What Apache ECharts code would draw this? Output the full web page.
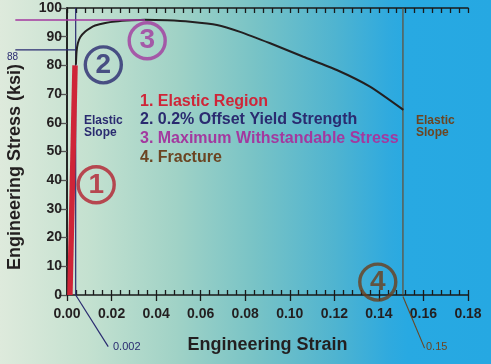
<!DOCTYPE html>
<html>
<head>
<meta charset="utf-8">
<script src="https://cdn.jsdelivr.net/npm/echarts@6/dist/echarts.min.js"></script>
<style>
html,body{margin:0;padding:0;width:491px;height:364px;overflow:hidden;}
body{background:linear-gradient(to right,
 rgb(222,234,220) 0%, rgb(196,225,208) 18%, rgb(160,210,198) 36%,
 rgb(120,195,198) 52%, rgb(80,180,208) 68%, rgb(48,170,222) 79%, rgb(40,169,226) 83%, rgb(38,168,226) 100%);}
#c{width:491px;height:364px;}
</style>
</head>
<body>
<div id="c"></div>
<script>
// ---- data ----
const curveStrain = [0.0040, 0.0043, 0.0049, 0.0060, 0.0082, 0.0104, 0.0126, 0.0172, 0.0217, 0.0291, 0.0351, 0.0450, 0.0553, 0.0673, 0.0777, 0.0912, 0.1061, 0.1211, 0.1360, 0.1510];
const curveStress = [80.2, 84.9, 87.8, 89.9, 91.8, 93.0, 93.9, 94.8, 95.3, 95.7, 95.9, 95.7, 95.2, 94.1, 91.7, 87.7, 83.0, 78.4, 72.6, 64.5];
const elasticStrain = [0.0013, 0.0036];
const elasticStress = [0, 80];
const offsetStrain = 0.0039;      // 0.2% offset line (drawn position)
const yieldStress = 85.4;          // 0.2% offset yield level
const maxStress = 95.8;            // maximum withstandable stress
const maxStrain = 0.035;
const fractureStrain = 0.1508;
const xTicks = [0, 0.18, 0.02];    // min, max, interval
const yTicks = [0, 100, 10];
const circleLabels = ['1', '2', '3', '4'];
const circleStrain = [0.0131, 0.0163, 0.0360, 0.1395];
const circleStress = [38.4, 80.2, 88.6, 4.5];
const legendLines = ['1. Elastic Region', '2. 0.2% Offset Yield Strength', '3. Maximum Withstandable Stress', '4. Fracture'];

const RED = '#cf2538', NAVY = '#2a2b70', PURPLE = '#a3399f', BROWN = '#6b4522', DARK = '#231f20';
const circleColors = ['#b3202f', NAVY, PURPLE, '#6b3f1c'];
const FF = '"Liberation Sans", Arial, Helvetica, sans-serif';

const zip = (a, b) => a.map((v, i) => [v, b[i]]);
const leftEdge = -0.0232;

const chart = echarts.init(document.getElementById('c'), null, {renderer: 'canvas'});
const lineS = (data, color, width, z) => ({
  type: 'line', data, symbol: 'none', clip: false, silent: true, z: z || 2,
  lineStyle: {color, width, cap: 'butt'}, animation: false, xAxisIndex: 0, yAxisIndex: 0
});

const option = {
  backgroundColor: 'transparent',
  animation: false,
  textStyle: {fontFamily: FF},
  grid: {left: 67, top: 8, right: 23, bottom: 69, containLabel: false},
  xAxis: [
    {
      type: 'value', position: 'bottom', min: xTicks[0], max: xTicks[1], interval: xTicks[2],
      axisLine: {lineStyle: {color: '#1a1a1a', width: 1.5}},
      axisTick: {length: 6, lineStyle: {color: '#1a1a1a', width: 1.3}},
      axisLabel: {formatter: v => v.toFixed(2), fontSize: 14, fontWeight: 'bold', color: DARK, margin: 12, fontFamily: FF},
      splitLine: {show: false},
      name: 'Engineering Strain', nameLocation: 'middle', nameGap: 41,
      nameTextStyle: {fontSize: 18, fontWeight: 'bold', color: DARK, fontFamily: FF}
    },
    {
      type: 'value', position: 'bottom', min: xTicks[0], max: xTicks[1], interval: xTicks[2],
      axisLine: {show: false},
      axisTick: {show: true, inside: true, length: 5, lineStyle: {color: '#1a1a1a', width: 1.3}},
      minorTick: {show: true, splitNumber: 5, length: 5, lineStyle: {color: '#1a1a1a', width: 1.3}},
      axisLabel: {show: false}, splitLine: {show: false}
    },
    {
      type: 'value', position: 'top', min: xTicks[0], max: xTicks[1], interval: xTicks[2],
      axisLine: {show: true, lineStyle: {color: '#1a1a1a', width: 1.5}},
      axisTick: {show: true, inside: true, length: 5, lineStyle: {color: '#1a1a1a', width: 1.3}},
      minorTick: {show: true, splitNumber: 5, length: 5, lineStyle: {color: '#1a1a1a', width: 1.3}},
      axisLabel: {show: false}, splitLine: {show: false}
    }
  ],
  yAxis: [
    {
      type: 'value', position: 'left', min: yTicks[0], max: yTicks[1], interval: yTicks[2],
      axisLine: {show: true, lineStyle: {color: '#1a1a1a', width: 1.5}},
      axisTick: {show: true, length: 8, lineStyle: {color: '#555', width: 1.3}},
      axisLabel: {fontSize: 14, fontWeight: 'bold', color: DARK, margin: 5, fontFamily: FF},
      splitLine: {show: false}
    },
    {
      type: 'value', position: 'right', min: yTicks[0], max: yTicks[1], interval: yTicks[2],
      axisLine: {show: true, lineStyle: {color: '#1a1a1a', width: 1.5}},
      axisTick: {show: false}, axisLabel: {show: false}, splitLine: {show: false}
    }
  ],
  series: [
    lineS([[offsetStrain, yTicks[0]], [offsetStrain, yTicks[1]]], NAVY, 1.2, 2),
    lineS([[offsetStrain, 0], [0.0185, -18]], NAVY, 1.2, 2),
    lineS([[fractureStrain, yTicks[0]], [fractureStrain, yTicks[1]]], BROWN, 1.1, 2),
    lineS([[fractureStrain, -0.5], [0.1605, -18.5]], BROWN, 1.1, 2),
    lineS(zip(elasticStrain, elasticStress), RED, 5.5, 3),
    Object.assign(lineS(zip(curveStrain, curveStress), DARK, 2, 4), {smooth: 0.2}),
    {
      type: 'scatter', symbol: 'circle', symbolSize: 36, z: 5, silent: true, xAxisIndex: 0, yAxisIndex: 0,
      data: circleLabels.map((t, i) => ({
        value: [circleStrain[i], circleStress[i]],
        itemStyle: {color: 'rgba(0,0,0,0)', borderColor: circleColors[i], borderWidth: 3.4},
        label: {show: true, position: 'inside', formatter: t, fontSize: 28, fontWeight: 'bold', color: circleColors[i], fontFamily: FF}
      }))
    }
  ]
};
chart.setOption(option);

// reference lines extending left of the axis, placed through the chart's own scales
const px = (x, y) => chart.convertToPixel({xAxisIndex: 0, yAxisIndex: 0}, [x, y]);
const seg = (a, b, color, width) => ({
  type: 'line', silent: true, z: 10,
  shape: {x1: a[0], y1: a[1], x2: b[0], y2: b[1]},
  style: {stroke: color, lineWidth: width}
});
chart.setOption({
  graphic: [
    seg(px(leftEdge, yieldStress), px(offsetStrain, yieldStress), NAVY, 1.2),
    seg(px(leftEdge, maxStress), px(maxStrain, maxStress), PURPLE, 1.6),
    ...legendLines.map((t, i) => ({
      type: 'text', x: 140, y: [102, 120, 138.5, 157.5][i], silent: true, z: 10,
      style: {text: t, fill: [RED, NAVY, PURPLE, BROWN][i], font: 'bold 16px ' + FF, verticalAlign: 'middle', align: 'left'}
    })),
    {type: 'text', x: 15, y: 167, rotation: Math.PI / 2, silent: true, z: 10,
     style: {text: 'Engineering Stress (ksi)', fill: DARK, font: 'bold 18px ' + FF, align: 'center', verticalAlign: 'middle'}},
    {type: 'text', x: 84, y: 114, silent: true, z: 10, style: {text: 'Elastic\nSlope', fill: NAVY, font: 'bold 12px ' + FF, lineHeight: 12.5, verticalAlign: 'top'}},
    {type: 'text', x: 416, y: 114, silent: true, z: 10, style: {text: 'Elastic\nSlope', fill: BROWN, font: 'bold 12px ' + FF, lineHeight: 12.5, verticalAlign: 'top'}},
    {type: 'text', x: 7, y: 57, silent: true, z: 10, style: {text: '88', fill: NAVY, font: '10px ' + FF, verticalAlign: 'middle'}},
    {type: 'text', x: 113, y: 347, silent: true, z: 10, style: {text: '0.002', fill: NAVY, font: '11px ' + FF, verticalAlign: 'middle'}},
    {type: 'text', x: 426, y: 347, silent: true, z: 10, style: {text: '0.15', fill: BROWN, font: '11px ' + FF, verticalAlign: 'middle'}}
  ]
});
</script>
</body>
</html>
